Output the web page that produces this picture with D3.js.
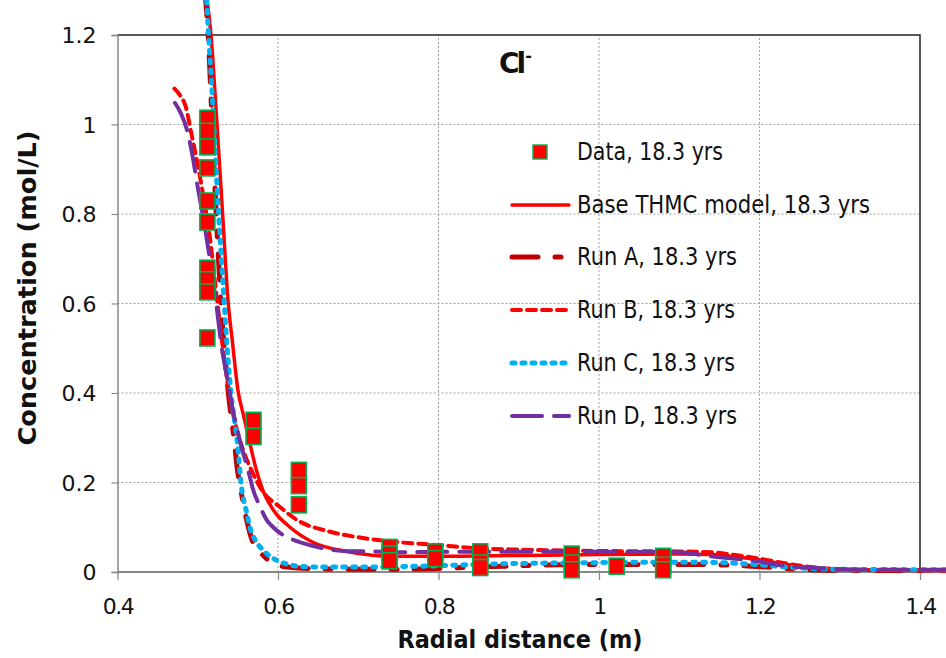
<!DOCTYPE html>
<html><head><meta charset="utf-8">
<script src="https://cdn.jsdelivr.net/npm/d3@7/dist/d3.min.js"></script>
<style>body{margin:0;background:#fff}svg{display:block}</style>
</head><body>
<svg id="c" width="946" height="658"></svg>
<script>
// ---------- data ----------
const xTicks = [0.4, 0.6, 0.8, 1.0, 1.2, 1.4];
const xTickLabels = ["0.4", "0.6", "0.8", "1", "1.2", "1.4"];
const yTicks = [0, 0.2, 0.4, 0.6, 0.8, 1.0, 1.2];
const yTickLabels = ["0", "0.2", "0.4", "0.6", "0.8", "1", "1.2"];

const dataX = [0.512,0.512,0.512,0.512,0.512,0.512,0.512,0.512,0.512,0.512,
               0.5695,0.5695, 0.626,0.626,0.626, 0.739,0.739,0.739, 0.796,0.796,
               0.852,0.852,0.852, 0.966,0.966,0.966, 1.022, 1.080,1.080,1.080];
const dataY = [1.014,0.985,0.95,0.903,0.829,0.782,0.679,0.653,0.626,0.523,
               0.339,0.303, 0.227,0.193,0.15, 0.055,0.04,0.025, 0.045,0.03,
               0.045,0.02,0.01, 0.04,0.02,0.005, 0.013, 0.035,0.015,0.005];

const baseX = [0.510,0.5165,0.524,0.531,0.538,0.543,0.550,0.557,0.564,0.572,0.580,0.594,0.615,0.644,0.686,0.748,0.800,0.900,1.000,1.100,1.140,1.170,1.200,1.230,1.260,1.290,1.350,1.450];
const baseY = [1.30,1.20,1.00,0.80,0.60,0.518,0.407,0.35,0.295,0.235,0.188,0.139,0.100,0.066,0.046,0.035,0.035,0.037,0.039,0.040,0.039,0.034,0.027,0.018,0.010,0.006,0.004,0.003];

const runAX = [0.509,0.513,0.518,0.523,0.529,0.537,0.545,0.549,0.555,0.561,0.568,0.580,0.594,0.612,0.650,0.700,0.750,0.800,0.850,0.900,0.950,1.000,1.100,1.150,1.200,1.250,1.300,1.450];
const runAY = [1.30,1.20,1.00,0.80,0.60,0.42,0.30,0.235,0.17,0.116,0.07,0.04,0.02,0.011,0.007,0.006,0.006,0.008,0.011,0.014,0.016,0.017,0.017,0.016,0.012,0.006,0.004,0.003];

const runBX = [0.471,0.478,0.485,0.492,0.500,0.507,0.515,0.522,0.530,0.540,0.550,0.557,0.565,0.581,0.602,0.624,0.665,0.706,0.748,0.800,0.850,0.900,1.000,1.100,1.140,1.170,1.200,1.230,1.260,1.290,1.350,1.450];
const runBY = [1.08,1.065,1.04,0.98,0.91,0.84,0.75,0.64,0.52,0.39,0.31,0.27,0.235,0.18,0.146,0.116,0.09,0.076,0.067,0.06,0.053,0.05,0.047,0.046,0.044,0.038,0.030,0.020,0.012,0.007,0.004,0.003];

const runCX = [0.5105,0.5135,0.517,0.520,0.526,0.533,0.536,0.541,0.549,0.555,0.560,0.565,0.572,0.581,0.590,0.600,0.612,0.625,0.650,0.700,0.750,0.800,0.850,0.900,1.000,1.100,1.150,1.200,1.250,1.300,1.450];
const runCY = [1.30,1.20,1.10,1.00,0.80,0.60,0.518,0.407,0.295,0.183,0.14,0.10,0.07,0.05,0.035,0.025,0.017,0.013,0.011,0.011,0.012,0.014,0.017,0.019,0.021,0.022,0.021,0.016,0.009,0.006,0.005];

const runDX = [0.4717,0.479,0.4866,0.494,0.500,0.508,0.515,0.523,0.530,0.536,0.544,0.553,0.565,0.568,0.578,0.586,0.594,0.630,0.644,0.681,0.715,0.752,0.800,0.900,1.000,1.100,1.135,1.160,1.185,1.210,1.234,1.260,1.290,1.350,1.450];
const runDY = [1.048,1.025,0.988,0.925,0.86,0.78,0.70,0.60,0.50,0.44,0.36,0.29,0.212,0.19,0.145,0.116,0.10,0.065,0.058,0.047,0.046,0.044,0.045,0.045,0.045,0.044,0.036,0.031,0.027,0.020,0.013,0.010,0.007,0.005,0.005];

const legendLabels = ["Data, 18.3 yrs","Base THMC model, 18.3 yrs","Run A, 18.3 yrs","Run B, 18.3 yrs","Run C, 18.3 yrs","Run D, 18.3 yrs"];

// ---------- drawing ----------
const svg = d3.select("#c");
const x = d3.scaleLinear().domain([0.4, 1.4]).range([117.5, 920]);
const y = d3.scaleLinear().domain([0, 1.2]).range([572, 35]);

// gridlines
const grid = svg.append("g");
grid.selectAll(".hg").data(yTicks.filter(v => v > 0 && v < 1.2)).enter().append("line")
  .attr("x1", x(0.4)).attr("x2", x(1.4)).attr("y1", d => y(d)).attr("y2", d => y(d))
  .attr("stroke", "#a0a0a0").attr("stroke-width", 1).attr("stroke-dasharray", "2,2");
grid.selectAll(".vg").data(xTicks.filter(v => v > 0.4 && v < 1.4)).enter().append("line")
  .attr("y1", y(0)).attr("y2", y(1.2)).attr("x1", d => x(d)).attr("x2", d => x(d))
  .attr("stroke", "#a0a0a0").attr("stroke-width", 1).attr("stroke-dasharray", "2,2");

// plot border (top & right)
svg.append("path")
  .attr("d", `M${x(0.4)},${y(1.2)}H${x(1.4)}V${y(0)}`)
  .attr("fill", "none").attr("stroke", "#222").attr("stroke-width", 1.5);

// axes
const yAxis = d3.axisLeft(y).tickValues(yTicks).tickSize(6).tickFormat((d, i) => yTickLabels[i]);
const gy = svg.append("g").attr("transform", `translate(${x(0.4)},0)`).call(yAxis);
gy.select(".domain").attr("stroke", "#888").attr("stroke-width", 1.5);
gy.selectAll(".tick line").attr("stroke", "#888").attr("stroke-width", 1.2);
gy.selectAll(".tick text").attr("font-family", "DejaVu Sans").attr("font-size", 22)
  .attr("fill", "#111").attr("x", -21).attr("dy", "0.36em");

const xAxis = d3.axisBottom(x).tickValues(xTicks).tickSize(8).tickFormat((d, i) => xTickLabels[i]);
const gx = svg.append("g").attr("transform", `translate(0,${y(0)})`).call(xAxis);
gx.select(".domain").remove();
gx.append("line").attr("x1", x(0.4)).attr("x2", 946).attr("y1", 0).attr("y2", 0)
  .attr("stroke", "#888").attr("stroke-width", 2);
gx.selectAll(".tick line").attr("stroke", "#888").attr("stroke-width", 1.2);
gx.selectAll(".tick text").attr("font-family", "DejaVu Sans").attr("font-size", 22)
  .attr("fill", "#111").attr("y", 26).attr("dy", "0.71em").attr("letter-spacing", "-1.5");

// series
const series = [
  {xs: baseX, ys: baseY, color: "#FF0000", w: 3.5, dash: null, cap: "round"},
  {xs: runAX, ys: runAY, color: "#C00000", w: 5, dash: "26,17,6,17", cap: "round"},
  {xs: runBX, ys: runBY, color: "#FF0000", w: 4, dash: "9,6", cap: "round"},
  {xs: runCX, ys: runCY, color: "#00B0F0", w: 5, dash: "3,7", cap: "round"},
  {xs: runDX, ys: runDY, color: "#7030A0", w: 4, dash: "30,12", cap: "round"}
];
const line = d3.line().x(d => x(d[0])).y(d => y(d[1])).curve(d3.curveMonotoneX);
series.forEach(s => {
  const pts = s.xs.map((v, i) => [v, s.ys[i]]);
  svg.append("path").datum(pts).attr("d", line)
    .attr("fill", "none").attr("stroke", s.color).attr("stroke-width", s.w)
    .attr("stroke-dasharray", s.dash).attr("stroke-linecap", s.cap).attr("stroke-linejoin", "round");
});

// data markers
const sw = 15, sh = 16;
svg.append("g").selectAll("rect").data(dataX.map((v, i) => [v, dataY[i]])).enter().append("rect")
  .attr("x", d => x(d[0]) - sw / 2).attr("y", d => y(d[1]) - sh / 2)
  .attr("width", sw).attr("height", sh)
  .attr("fill", "#FF0000").attr("stroke", "#00B050").attr("stroke-width", 1.6);

// title
const t = svg.append("text").attr("x", 499).attr("y", 73)
  .attr("font-family", "DejaVu Sans").attr("font-weight", "bold").attr("font-size", 28)
  .attr("letter-spacing", "-3").attr("fill", "#111");
t.append("tspan").text("Cl");
t.append("tspan").attr("font-size", 16).attr("dy", -12).attr("dx", 2).text("-");

// legend
const legY = [152, 205, 257, 310, 363, 416];
const legW = [146, 293, 160, 158, 158, 160];
const lg = svg.append("g");
legendLabels.forEach((lab, i) => {
  const cy = legY[i];
  if (i === 0) {
    lg.append("rect").attr("x", 533).attr("y", cy - 7).attr("width", 14).attr("height", 14)
      .attr("fill", "#FF0000").attr("stroke", "#00B050").attr("stroke-width", 1.4);
  } else {
    const s = series[i - 1];
    lg.append("line").attr("x1", 512).attr("x2", 569).attr("y1", cy).attr("y2", cy)
      .attr("stroke", s.color).attr("stroke-width", s.w).attr("stroke-dasharray", s.dash)
      .attr("stroke-linecap", s.cap);
  }
  lg.append("text").attr("x", 577).attr("y", cy + 8)
    .attr("font-family", "DejaVu Sans").attr("font-size", 24).attr("fill", "#111")
    .attr("textLength", legW[i]).attr("lengthAdjust", "spacingAndGlyphs").text(lab);
});

// axis titles
svg.append("text").attr("x", 520).attr("y", 648).attr("text-anchor", "middle")
  .attr("font-family", "DejaVu Sans").attr("font-weight", "bold").attr("font-size", 24)
  .attr("fill", "#111").attr("textLength", 245).attr("lengthAdjust", "spacingAndGlyphs")
  .text("Radial distance (m)");
svg.append("text").attr("transform", "translate(36,288) rotate(-90)").attr("text-anchor", "middle")
  .attr("font-family", "DejaVu Sans").attr("font-weight", "bold").attr("font-size", 24)
  .attr("fill", "#111").attr("textLength", 315).attr("lengthAdjust", "spacingAndGlyphs")
  .text("Concentration (mol/L)");
</script>
</body></html>
